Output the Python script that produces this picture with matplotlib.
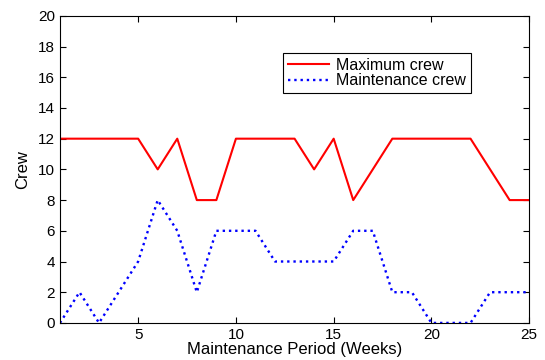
import numpy as np
import matplotlib.pyplot as plt

plt.rcParams['font.family'] = ['Liberation Sans', 'DejaVu Sans']

weeks = np.arange(1, 26)
max_crew = [12, 12, 12, 12, 12, 10, 12, 8, 8, 12, 12, 12, 12, 10, 12, 8, 10, 12, 12, 12, 12, 12, 10, 8, 8]
maint_crew = [0, 2, 0, 2, 4, 8, 6, 2, 6, 6, 6, 4, 4, 4, 4, 6, 6, 2, 2, 0, 0, 0, 2, 2, 2]

fig = plt.figure(figsize=(5.45, 3.6), dpi=100)
ax = fig.add_axes([0.110, 0.103, 0.861, 0.853])

ax.plot(weeks, max_crew, '-', color='red', lw=1.5, label='Maximum crew')
ax.plot(weeks, maint_crew, ':', color='blue', lw=1.7, label='Maintenance crew')

ax.set_xlim(1, 25)
ax.set_ylim(0, 20)
ax.set_xticks([5, 10, 15, 20, 25])
ax.set_yticks(range(0, 21, 2))
ax.tick_params(direction='in', labelsize=11, top=True, right=True, length=4)
ax.set_xlabel('Maintenance Period (Weeks)', fontsize=12, labelpad=0)
ax.set_ylabel('Crew', fontsize=12, labelpad=6)

leg = ax.legend(loc='upper left', bbox_to_anchor=(0.475, 0.879), fancybox=False,
                framealpha=1, edgecolor='black', fontsize=11.5,
                handlelength=2.6, handletextpad=0.45, borderpad=0.3,
                labelspacing=0.02, borderaxespad=0)
leg.get_frame().set_linewidth(0.8)

plt.savefig('out.png')
